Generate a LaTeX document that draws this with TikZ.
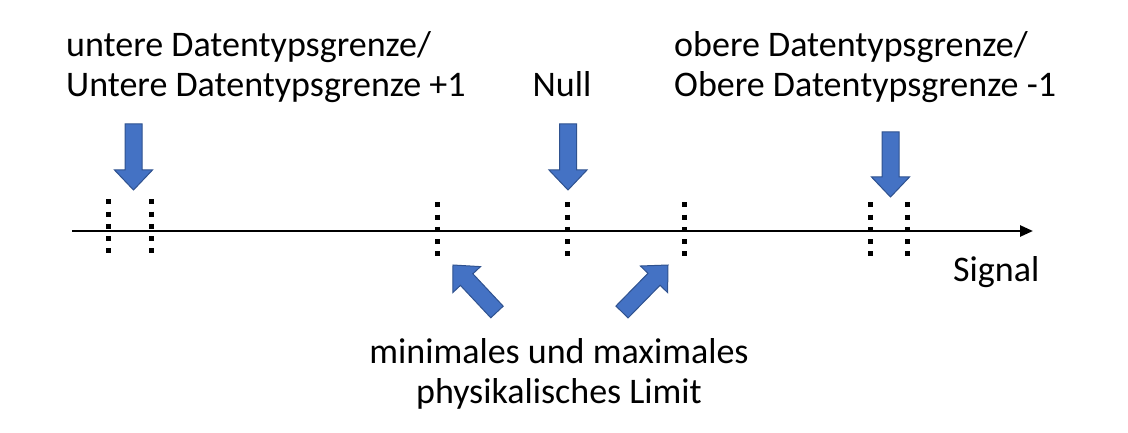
\documentclass[tikz,border=0pt]{standalone}
\usepackage{fontspec}
\setmainfont{Carlito}
\usetikzlibrary{calc,arrows.meta}
\definecolor{arrfill}{HTML}{4472C4}
\definecolor{arrline}{HTML}{2F528F}
\tikzset{
  lbl/.style={inner sep=0pt, font=\fontsize{36}{40}\selectfont},
  dotline/.style={line width=5pt, dash pattern=on 5pt off 7.2pt},
  axisline/.style={line width=2.5pt, -{Triangle[length=13pt,width=11pt]}},
  blockarr/.style={fill=arrfill, draw=arrline, line width=1pt, line join=miter}
}
\newcommand\blkarrow[2]{%
  \path let \p1=($(#2)!20pt!(#1)$) in coordinate (hh) at (\p1);
  \draw[blockarr]
    ($(#1)!8.5pt!90:(#2)$) -- ($(hh)!8.5pt!90:(#2)$) -- ($(hh)!19pt!90:(#2)$)
    -- (#2) -- ($(hh)!19pt!-90:(#2)$) -- ($(hh)!8.5pt!-90:(#2)$)
    -- ($(#1)!8.5pt!-90:(#2)$) -- cycle;
}
\begin{document}
\begin{tikzpicture}[x=1pt,y=-1pt]
\useasboundingbox (0,0) rectangle (1128,433);
% axis
\coordinate (axs) at (72,231);
\coordinate (axe) at (1033,231);
\draw[axisline] (axs) -- (axe);
% dotted marks
\foreach \x/\a/\b in {108/199.5/252.5, 151/199.5/252.5, 437/202.5/256.5, 567/202.5/256.5, 684/202.5/256.5, 870/202.5/256.5, 907/202.5/256.5}
  \draw[dotline] (\x,\a) -- (\x,\b);
% block arrows
\coordinate (lt) at (133.5,124); \coordinate (lp) at (133.5,190);
\coordinate (nt) at (568,124);   \coordinate (np) at (568,190);
\coordinate (rt) at (890.5,132); \coordinate (rp) at (890.5,197);
\coordinate (dlt) at (497,312);  \coordinate (dlp) at (453,265);
\coordinate (drt) at (622,312);  \coordinate (drp) at (668,265);
\blkarrow{lt}{lp}
\blkarrow{nt}{np}
\blkarrow{rt}{rp}
\blkarrow{dlt}{dlp}
\blkarrow{drt}{drp}
% labels
\node[lbl, anchor=base west] (u1) at (66,57) {untere Datentypsgrenze/};
\node[lbl, anchor=base west] (u2) at (66,97) {Untere Datentypsgrenze +1};
\node[lbl, anchor=base] (null) at (562,97) {Null};
\node[lbl, anchor=base west] (o1) at (674,57) {obere Datentypsgrenze/};
\node[lbl, anchor=base west] (o2) at (674,97) {Obere Datentypsgrenze -1};
\node[lbl, anchor=base west] (sig) at (953,281) {Signal};
\node[lbl, anchor=base] (m1) at (559,363) {minimales und maximales};
\node[lbl, anchor=base] (m2) at (559,403) {physikalisches Limit};
\end{tikzpicture}
\end{document}
